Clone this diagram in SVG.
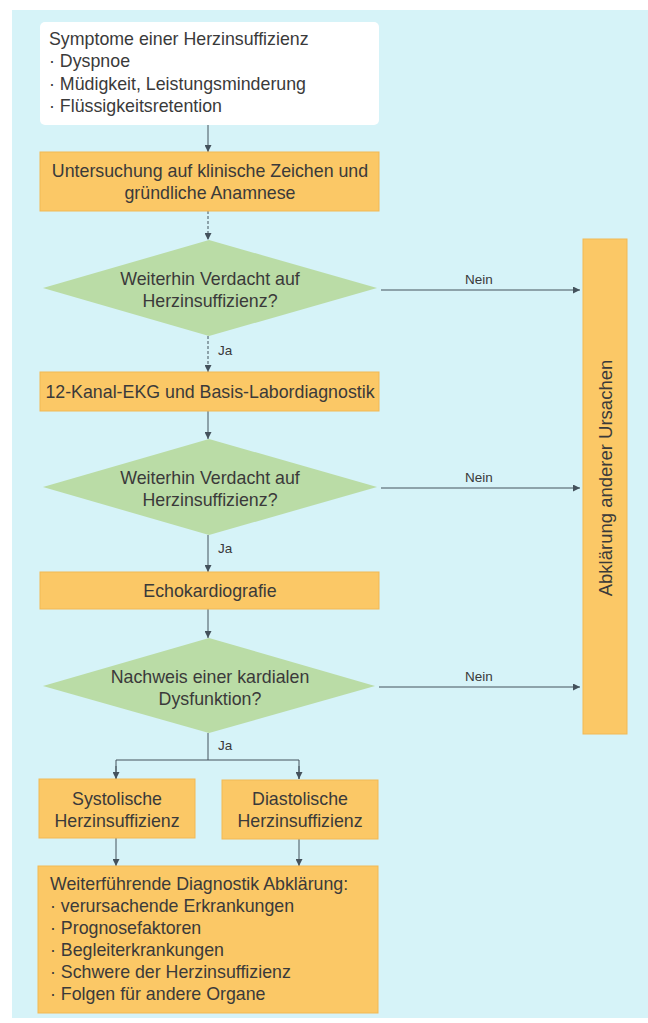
<svg xmlns="http://www.w3.org/2000/svg" width="648" height="1023" viewBox="0 0 648 1023">
<defs>
<marker id="ah" viewBox="0 0 10 10" refX="10" refY="5" markerWidth="7" markerHeight="7" markerUnits="userSpaceOnUse" orient="auto">
<path d="M0 0 L10 5 L0 10 Z" fill="#44525c"/>
</marker>
</defs>
<style>
.t{font-family:"Liberation Sans","DejaVu Sans",sans-serif;font-size:17.8px;fill:#3a3a3a}
.c{text-anchor:middle}
.s{font-size:13.5px}
.v{font-size:18.5px}
.box{fill:#fbc866;stroke:#f2b955;stroke-width:1}
.dia{fill:#badca6}
.ln{stroke:#44525c;stroke-width:1;fill:none}
.dash{stroke-dasharray:3 2}
</style>
<rect x="0" y="0" width="648" height="1023" fill="#ffffff"/>
<rect x="12" y="10" width="636" height="1008" fill="#d6f3f8"/>

<g id="connectors">
<line class="ln" x1="208" y1="125" x2="208" y2="152" marker-end="url(#ah)"/>
<line class="ln dash" x1="208" y1="211" x2="208" y2="240" marker-end="url(#ah)"/>
<line class="ln dash" x1="208" y1="336" x2="208" y2="372" marker-end="url(#ah)"/>
<line class="ln" x1="208" y1="411" x2="208" y2="439" marker-end="url(#ah)"/>
<line class="ln" x1="208" y1="535" x2="208" y2="572" marker-end="url(#ah)"/>
<line class="ln" x1="208" y1="609" x2="208" y2="638" marker-end="url(#ah)"/>
<polyline class="ln" points="208,733 208,760"/>
<polyline class="ln" points="116,779 116,760 299,760 299,779"/>
<line class="ln" x1="116" y1="766" x2="116" y2="779" marker-end="url(#ah)"/>
<line class="ln" x1="299" y1="766" x2="299" y2="779" marker-end="url(#ah)"/>
<line class="ln" x1="116" y1="838" x2="116" y2="866" marker-end="url(#ah)"/>
<line class="ln" x1="299" y1="839" x2="299" y2="866" marker-end="url(#ah)"/>
<line class="ln" x1="381" y1="290" x2="580" y2="290" marker-end="url(#ah)"/>
<line class="ln" x1="381" y1="488" x2="580" y2="488" marker-end="url(#ah)"/>
<line class="ln" x1="379" y1="687" x2="580" y2="687" marker-end="url(#ah)"/>
<text class="t s" x="218" y="355">Ja</text>
<text class="t s" x="218" y="553">Ja</text>
<text class="t s" x="218" y="750">Ja</text>
<text class="t s c" x="479" y="284">Nein</text>
<text class="t s c" x="479" y="482">Nein</text>
<text class="t s c" x="479" y="681">Nein</text>
</g>

<g id="symptome">
<rect x="40" y="22" width="339" height="103" rx="5" fill="#ffffff"/>
<text class="t" x="49" y="45">Symptome einer Herzinsuffizienz</text>
<text class="t" x="49" y="67">· Dyspnoe</text>
<text class="t" x="49" y="90">· Müdigkeit, Leistungsminderung</text>
<text class="t" x="49" y="112">· Flüssigkeitsretention</text>
</g>

<g id="untersuchung">
<rect class="box" x="40" y="152" width="339" height="59"/>
<text class="t c" x="210" y="177">Untersuchung auf klinische Zeichen und</text>
<text class="t c" x="210" y="199">gründliche Anamnese</text>
</g>

<g id="verdacht1">
<path class="dia" d="M43 288 L209 240 L377 288 L209 336 Z"/>
<text class="t c" x="210" y="285">Weiterhin Verdacht auf</text>
<text class="t c" x="210" y="307">Herzinsuffizienz?</text>
</g>

<g id="ekg">
<rect class="box" x="40" y="372" width="339" height="39"/>
<text class="t c" x="210" y="398">12-Kanal-EKG und Basis-Labordiagnostik</text>
</g>

<g id="verdacht2">
<path class="dia" d="M43 487 L209 439 L377 487 L209 535 Z"/>
<text class="t c" x="210" y="484">Weiterhin Verdacht auf</text>
<text class="t c" x="210" y="506">Herzinsuffizienz?</text>
</g>

<g id="echo">
<rect class="box" x="40" y="572" width="339" height="37"/>
<text class="t c" x="210" y="597">Echokardiografie</text>
</g>

<g id="nachweis">
<path class="dia" d="M43 686 L209 638 L375 686 L209 733 Z"/>
<text class="t c" x="210" y="683">Nachweis einer kardialen</text>
<text class="t c" x="210" y="705">Dysfunktion?</text>
</g>

<g id="systolisch">
<rect class="box" x="39" y="779" width="156" height="59"/>
<text class="t c" x="117" y="805">Systolische</text>
<text class="t c" x="117" y="827">Herzinsuffizienz</text>
</g>

<g id="diastolisch">
<rect class="box" x="222" y="780" width="156" height="59"/>
<text class="t c" x="300" y="805">Diastolische</text>
<text class="t c" x="300" y="827">Herzinsuffizienz</text>
</g>

<g id="weiterfuehrend">
<rect class="box" x="38" y="866" width="340" height="147"/>
<text class="t" x="50" y="890">Weiterführende Diagnostik Abklärung:</text>
<text class="t" x="50" y="912">· verursachende Erkrankungen</text>
<text class="t" x="50" y="934">· Prognosefaktoren</text>
<text class="t" x="50" y="956">· Begleiterkrankungen</text>
<text class="t" x="50" y="978">· Schwere der Herzinsuffizienz</text>
<text class="t" x="50" y="1000">· Folgen für andere Organe</text>
</g>

<g id="abklaerung">
<rect class="box" x="583" y="239" width="44" height="495"/>
<text class="t c v" x="0" y="0" transform="translate(612 478) rotate(-90)">Abklärung anderer Ursachen</text>
</g>
</svg>
